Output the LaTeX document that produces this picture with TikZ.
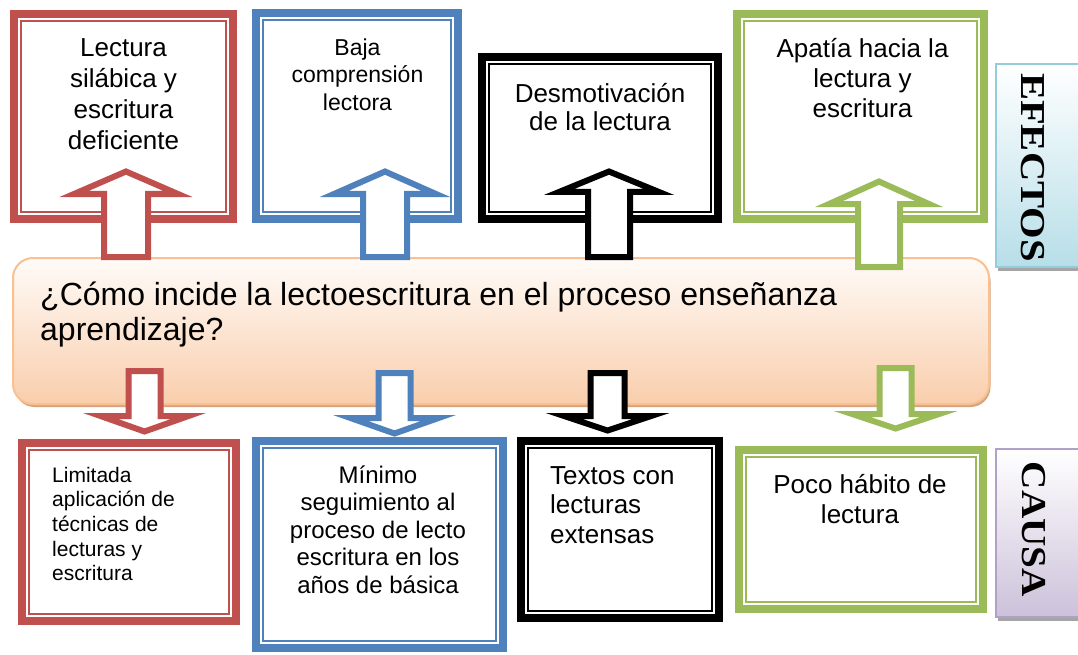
\documentclass[tikz,border=0pt]{standalone}
\usepackage{fontspec}
\usepackage{graphicx}
\setmainfont{Liberation Sans}
\newfontfamily\labelfont{Liberation Serif}
\usetikzlibrary{calc}
\definecolor{cred}{RGB}{192,80,77}
\definecolor{cblue}{RGB}{79,129,189}
\definecolor{cgreen}{RGB}{155,187,89}
\definecolor{peachtop}{RGB}{255,251,248}
\definecolor{peachbot}{RGB}{249,206,172}
\definecolor{peachline}{RGB}{250,192,144}
\definecolor{peachshadow}{RGB}{214,165,128}
\definecolor{bluebot}{RGB}{183,222,232}
\definecolor{blueline}{RGB}{147,205,221}
\definecolor{purpbot}{RGB}{204,193,218}
\definecolor{purpline}{RGB}{178,161,199}
\definecolor{greyshadow}{RGB}{165,165,165}
\tikzset{
  framebox/.style={draw=#1, line width=8pt, fill=white, inner sep=0pt},
  innerframe/.style={draw=#1, line width=2pt},
  blockarrow/.style={draw=#1, line width=6pt, fill=white, line join=miter},
  boxtext/.style={anchor=north, inner sep=0pt, align=center, text=black},
  boxtextl/.style={anchor=north west, inner sep=0pt, align=left, text=black},
  sidebox/.style={draw=#1, line width=2pt, top color=white, inner sep=0pt},
  sidetext/.style={rotate=-90, inner sep=0pt, font={\labelfont\bfseries\fontsize{35}{35}\selectfont}},
}
% name, color, x1, y1, x2, y2 (outer edges)
\newcommand\dblbox[6]{%
  \node[framebox=#2, minimum width={(#5-#3-8)*1pt}, minimum height={(#6-#4-8)*1pt}] (#1) at ({(#3+#5)/2},{(#4+#6)/2}) {};
  \draw[innerframe=#2] (#3+11,#4+11) rectangle (#5-11,#6-11);}
% color, cx, tip, base, half head, half shaft, bottom
\newcommand\blkup[7]{%
  \draw[blockarrow=#1] (#2-#6+3,#7-3) -- (#2-#6+3,#4-3) -- (#2-#5+4,#4-3) -- (#2,#3+3.5)
    -- (#2+#5-4,#4-3) -- (#2+#6-3,#4-3) -- (#2+#6-3,#7-3) -- cycle;}
% color, cx, top, base, half head, half shaft, tip
\newcommand\blkdown[7]{%
  \draw[blockarrow=#1] (#2-#6+3,#3+3) -- (#2-#6+3,#4+3) -- (#2-#5+4,#4+3) -- (#2,#7-3.5)
    -- (#2+#5-4,#4+3) -- (#2+#6-3,#4+3) -- (#2+#6-3,#3+3) -- cycle;}
\begin{document}
\begin{tikzpicture}[x=1pt,y=-1pt]
\useasboundingbox (0,0) rectangle (1078,655);
\fill[white] (0,0) rectangle (1078,655);
% top boxes (effects)
\dblbox{b1}{cred}{10}{10}{237}{223}
\dblbox{b2}{cblue}{252}{9}{462}{223}
\dblbox{b3}{black}{478}{53}{722}{223}
\dblbox{b4}{cgreen}{733}{10}{988}{223}
% bottom boxes (causes)
\dblbox{b5}{cred}{18}{439}{240}{625}
\dblbox{b6}{cblue}{252}{437}{507}{652}
\dblbox{b7}{black}{517}{437}{723}{622}
\dblbox{b8}{cgreen}{735}{446}{987}{613}
% texts
\node[boxtext, font={\fontsize{26}{31}\selectfont}] (t1) at (123.5,34.3) {\strut Lectura\\silábica y\\escritura\\deficiente};
\node[boxtext, font={\fontsize{23}{27.5}\selectfont}] (t2) at (357.5,35.75) {\strut Baja\\comprensión\\lectora};
\node[boxtext, font={\fontsize{26}{28}\selectfont}] (t3) at (600,82.4) {\strut Desmotivación\\de la lectura};
\node[boxtext, font={\fontsize{26}{30}\selectfont}] (t4) at (862.5,36) {\strut Apatía hacia la\\lectura y\\escritura};
\node[boxtextl, font={\fontsize{21}{24.6}\selectfont}] (t5) at (52,464.8) {\strut Limitada\\aplicación de\\técnicas de\\lecturas y\\escritura};
\node[boxtext, font={\fontsize{24}{27.5}\selectfont}] (t6) at (378,463.75) {\strut Mínimo\\seguimiento al\\proceso de lecto\\escritura en los\\años de básica};
\node[boxtextl, font={\fontsize{26}{29.5}\selectfont}] (t7) at (550,463.35) {\strut Textos con\\lecturas\\extensas};
\node[boxtext, font={\fontsize{26}{30}\selectfont}] (t8) at (860,472) {\strut Poco hábito de\\lectura};
% central question
\node[rounded corners=20pt, fill=peachshadow, minimum width=976pt, minimum height=146pt, inner sep=0pt] (qshadow) at (502.5,334) {};
\node[rounded corners=20pt, draw=peachline, line width=2pt, top color=peachtop, bottom color=peachbot, minimum width=976pt, minimum height=146pt, inner sep=0pt] (q) at (501,331) {};
\node[boxtextl, font={\fontsize{32}{35}\selectfont}] (qtext) at (40,280.5) {\strut ¿Cómo incide la lectoescritura en el proceso enseñanza\\aprendizaje?};
% side labels
\node[fill=greyshadow, minimum width=90pt, minimum height=203pt, inner sep=0pt] (effshadow) at (1043,169.5) {};
\node[sidebox=blueline, bottom color=bluebot, minimum width=90pt, minimum height=203pt] (eff) at (1041,165.5) {};
\node[sidetext] (efftext) at (1033.3,167.5) {\scalebox{1.16}[1]{EFECTOS}};
\node[fill=greyshadow, minimum width=90pt, minimum height=168pt, inner sep=0pt] (caushadow) at (1043,537) {};
\node[sidebox=purpline, bottom color=purpbot, minimum width=90pt, minimum height=168pt] (cau) at (1041,533) {};
\node[sidetext] (cautext) at (1034,529.5) {\scalebox{1.12}[1]{CAUSA}};
% block arrows
\blkup{cred}{126}{168}{197}{56}{25}{260}
\blkup{cblue}{385}{168}{197}{55}{25}{260}
\blkup{black}{609}{168}{195}{54}{24}{260}
\blkup{cgreen}{879}{178}{207}{54}{24}{270}
\blkdown{cred}{144.5}{368}{413}{48}{19}{435}
\blkdown{cblue}{394.5}{370}{415}{48}{19}{437}
\blkdown{black}{607.5}{370}{413}{47.5}{20}{434}
\blkdown{cgreen}{895.5}{365}{411}{47.5}{19}{432}
\end{tikzpicture}
\end{document}
